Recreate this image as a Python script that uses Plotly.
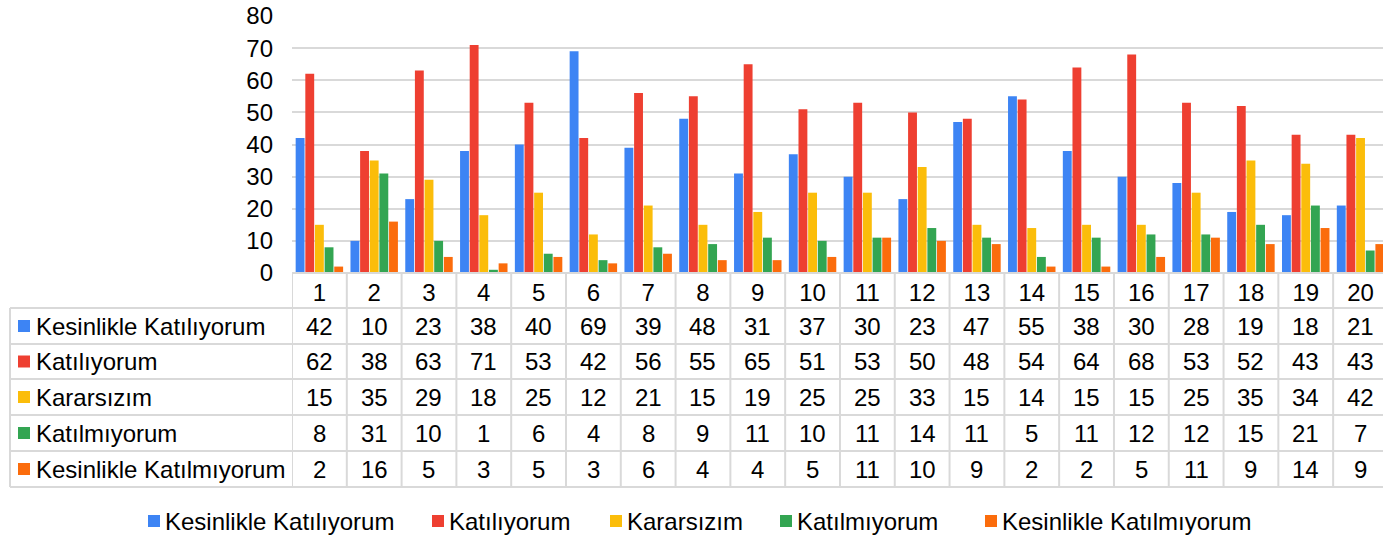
import plotly.graph_objects as go

categories = [str(i) for i in range(1, 21)]
series_names = ["Kesinlikle Katılıyorum", "Katılıyorum", "Kararsızım", "Katılmıyorum", "Kesinlikle Katılmıyorum"]
kesinlikle_katiliyorum = [42, 10, 23, 38, 40, 69, 39, 48, 31, 37, 30, 23, 47, 55, 38, 30, 28, 19, 18, 21]
katiliyorum = [62, 38, 63, 71, 53, 42, 56, 55, 65, 51, 53, 50, 48, 54, 64, 68, 53, 52, 43, 43]
kararsizim = [15, 35, 29, 18, 25, 12, 21, 15, 19, 25, 25, 33, 15, 14, 15, 15, 25, 35, 34, 42]
katilmiyorum = [8, 31, 10, 1, 6, 4, 8, 9, 11, 10, 11, 14, 11, 5, 11, 12, 12, 15, 21, 7]
kesinlikle_katilmiyorum = [2, 16, 5, 3, 5, 3, 6, 4, 4, 5, 11, 10, 9, 2, 2, 5, 11, 9, 14, 9]
y_ticks = [0, 10, 20, 30, 40, 50, 60, 70, 80]

series_values = [kesinlikle_katiliyorum, katiliyorum, kararsizim, katilmiyorum, kesinlikle_katilmiyorum]
colors = ["#3d84f4", "#ee3f31", "#fbbd0a", "#33a552", "#fb6c0c"]

W, H = 1383, 537
L, R, T, B = 292, 0, 16, 264
plot_w = W - L - R
plot_h = H - T - B
axis_px = H - B  # 273
FONT = "Liberation Sans, Arial, sans-serif"
FS = 24
GRID = "#d9d9d9"


def px_x(p):
    return (p - L) / plot_w


def px_y(p):
    return (axis_px - p) / plot_h


fig = go.Figure()
for name, vals, c in zip(series_names, series_values, colors):
    fig.add_trace(go.Bar(x=categories, y=vals, name=name, marker=dict(color=c, line=dict(width=0))))

shapes = []
annotations = []
row_edges = [308, 344, 379, 415, 451, 487]
# horizontal table lines
shapes.append(dict(type="line", xref="paper", yref="paper", x0=0, x1=1,
                   y0=px_y(axis_px), y1=px_y(axis_px), line=dict(color=GRID, width=2)))
for e in row_edges:
    shapes.append(dict(type="line", xref="paper", yref="paper", x0=px_x(10), x1=1,
                       y0=px_y(e), y1=px_y(e), line=dict(color=GRID, width=2)))
# left border of label column
shapes.append(dict(type="line", xref="paper", yref="paper", x0=px_x(10), x1=px_x(10),
                   y0=px_y(308), y1=px_y(487), line=dict(color=GRID, width=2)))
# vertical category separators
for k in range(len(categories) + 1):
    shapes.append(dict(type="line", xref="x", yref="paper", x0=k - 0.5, x1=k - 0.5,
                       y0=px_y(axis_px), y1=px_y(487), line=dict(color=GRID, width=2)))

for r, (name, vals, c) in enumerate(zip(series_names, series_values, colors)):
    top, bot = row_edges[r], row_edges[r + 1]
    cy = (top + bot) / 2
    shapes.append(dict(type="rect", xref="paper", yref="paper", x0=px_x(18), x1=px_x(30),
                       y0=px_y(cy - 6), y1=px_y(cy + 6), line=dict(width=0), fillcolor=c))
    annotations.append(dict(xref="paper", yref="paper", x=px_x(34), y=px_y(cy), text=name,
                            showarrow=False, xanchor="left", yanchor="middle",
                            font=dict(family=FONT, size=FS, color="#000")))
    for i, v in enumerate(vals):
        annotations.append(dict(xref="x", yref="paper", x=i, y=px_y(cy), text=str(v),
                                showarrow=False, xanchor="center", yanchor="middle",
                                font=dict(family=FONT, size=FS, color="#000")))

# bottom legend (one entry per series)
legend_x = [148, 432, 610, 780, 985]
legend_cy = 521
for name, c, lx in zip(series_names, colors, legend_x):
    shapes.append(dict(type="rect", xref="paper", yref="paper", x0=px_x(lx), x1=px_x(lx + 12),
                       y0=px_y(legend_cy - 6), y1=px_y(legend_cy + 6), line=dict(width=0),
                       fillcolor=c))
    annotations.append(dict(xref="paper", yref="paper", x=px_x(lx + 15), y=px_y(legend_cy),
                            text=name, showarrow=False, xanchor="left", yanchor="middle",
                            font=dict(family=FONT, size=FS, color="#000")))

fig.update_layout(
    width=W, height=H,
    margin=dict(l=L, r=R, t=T, b=B, pad=0, autoexpand=False),
    paper_bgcolor="white", plot_bgcolor="white",
    barmode="group", bargap=0.12, bargroupgap=0.08,
    font=dict(family=FONT, size=FS, color="#000"),
    xaxis=dict(type="category", range=[-0.5, 19.41], showgrid=False, zeroline=False,
               showline=False, ticks="", tickfont=dict(size=FS, color="#000"),
               ticklabelstandoff=3),
    yaxis=dict(range=[0, 80], tickvals=y_ticks, showgrid=True, gridcolor=GRID, gridwidth=2,
               zeroline=False, showline=False, ticks="", tickfont=dict(size=FS, color="#000"),
               ticklabelstandoff=18),
    showlegend=False,
    shapes=shapes, annotations=annotations,
)

fig.write_html("out.html", config={"displayModeBar": False},
               post_script="document.body.style.margin='0';document.body.style.overflow='hidden';")
